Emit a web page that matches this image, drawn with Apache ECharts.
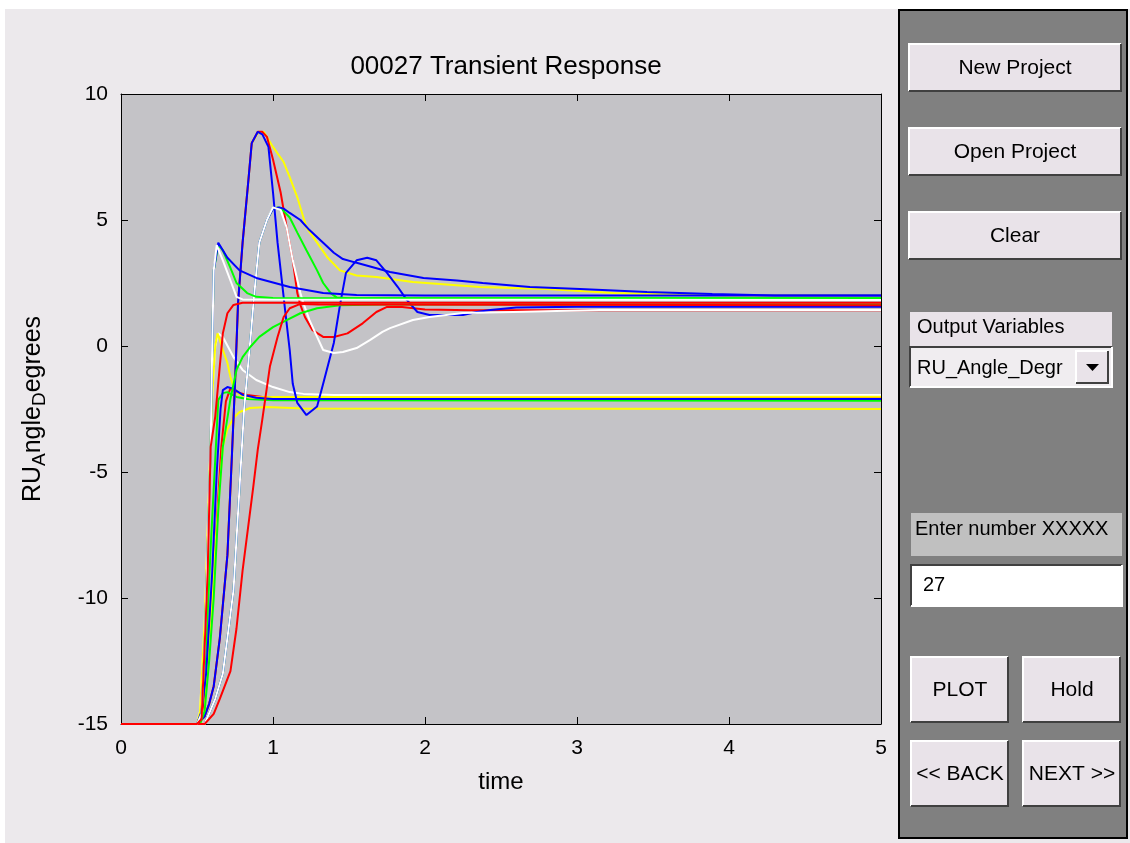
<!DOCTYPE html>
<html><head><meta charset="utf-8">
<script src="https://cdn.jsdelivr.net/npm/echarts@6/dist/echarts.min.js"></script>
<style>html,body{margin:0;padding:0;background:#fff;}#c{width:1130px;height:843px;}</style>
</head><body><div id="c"></div>
<script>
// ---- data (time, value) ----
const xTicks = [0, 1, 2, 3, 4, 5];
const yTicks = [-15, -10, -5, 0, 5, 10];
const titleText = '00027 Transient Response';
const xName = 'time';

const blueA = [[0,-15],[0.5,-15],[0.55,-14.7],[0.58,-14.2],[0.61,-13.5],[0.65,-11.6],[0.70,-8.3],[0.73,-4.3],[0.75,-1.5],[0.77,1.7],[0.80,4.1],[0.84,6.7],[0.86,8.05],[0.90,8.5],[0.93,8.4],[0.97,7.9],[1.0,6.1],[1.03,4.1],[1.07,1.95],[1.08,1.4],[1.11,-0.16],[1.13,-1.5],[1.16,-2.26],[1.22,-2.74],[1.29,-2.4],[1.33,-1.5],[1.40,0.12],[1.44,1.6],[1.48,2.9],[1.55,3.4],[1.62,3.5],[1.68,3.4],[1.75,2.9],[1.82,2.35],[1.88,1.83],[1.95,1.35],[2.03,1.23],[2.25,1.23],[2.34,1.35],[2.43,1.43],[2.6,1.53],[3.0,1.56],[5,1.56]];
const redB = [[0,-15],[0.5,-15],[0.55,-14.7],[0.58,-14.2],[0.61,-13.5],[0.65,-11.6],[0.70,-8.3],[0.73,-4.3],[0.75,-1.5],[0.77,1.7],[0.80,4.1],[0.84,6.7],[0.86,8.05],[0.90,8.5],[0.93,8.5],[0.96,8.3],[1.0,7.4],[1.05,6.1],[1.09,4.7],[1.13,3.4],[1.16,2.1],[1.18,1.63],[1.21,1.15],[1.26,0.63],[1.33,0.36],[1.40,0.36],[1.49,0.5],[1.59,0.9],[1.68,1.35],[1.75,1.55],[1.85,1.55],[2.0,1.45],[2.3,1.42],[5,1.42]];
const yellowC = [[0,-15],[0.5,-15],[0.55,-14.7],[0.58,-14.2],[0.61,-13.5],[0.65,-11.6],[0.70,-8.3],[0.73,-4.3],[0.75,-1.5],[0.77,1.7],[0.80,4.1],[0.84,6.7],[0.86,8.05],[0.90,8.45],[0.94,8.5],[1.0,7.9],[1.07,7.3],[1.11,6.7],[1.16,5.9],[1.22,4.7],[1.29,4.1],[1.36,3.5],[1.44,3.0],[1.55,2.8],[1.68,2.74],[1.92,2.54],[2.36,2.34],[2.80,2.26],[3.24,2.1],[3.68,2.04],[4.0,2.0],[5,2.0]];
const whiteE = [[0,-15],[0.55,-15],[0.62,-14.0],[0.67,-13.0],[0.74,-9.7],[0.78,-5.6],[0.81,-2.5],[0.84,-0.5],[0.855,0.5],[0.87,1.6],[0.89,2.9],[0.91,4.1],[0.96,5.0],[1.0,5.5],[1.05,5.4],[1.09,4.7],[1.13,3.4],[1.18,2.1],[1.20,1.7],[1.24,1.03],[1.29,0.36],[1.33,-0.16],[1.40,-0.28],[1.46,-0.24],[1.55,-0.08],[1.64,0.24],[1.72,0.56],[1.77,0.71],[1.92,1.03],[2.03,1.15],[2.25,1.31],[2.58,1.35],[3.15,1.43],[5,1.43]];
const blueD = [[0,-15],[0.55,-15],[0.62,-14.0],[0.67,-13.0],[0.74,-9.7],[0.78,-5.6],[0.81,-2.5],[0.84,-0.5],[0.855,0.5],[0.87,1.6],[0.89,2.9],[0.91,4.1],[0.96,5.0],[1.0,5.45],[1.04,5.5],[1.07,5.45],[1.11,5.28],[1.18,5.0],[1.24,4.6],[1.33,4.1],[1.40,3.7],[1.46,3.45],[1.55,3.3],[1.77,2.94],[1.99,2.7],[2.21,2.6],[2.38,2.5],[2.69,2.34],[3.02,2.26],[3.46,2.14],[3.89,2.06],[4.3,2.0],[5,2.0]];
const greenF = [[0,-15],[0.55,-15],[0.62,-14.0],[0.67,-13.0],[0.74,-9.7],[0.78,-5.6],[0.81,-2.5],[0.84,-0.5],[0.855,0.5],[0.87,1.6],[0.89,2.9],[0.91,4.1],[0.96,5.0],[1.0,5.45],[1.03,5.5],[1.05,5.48],[1.11,5.1],[1.16,4.5],[1.22,3.8],[1.29,3.0],[1.33,2.5],[1.38,2.1],[1.42,1.92],[1.5,1.89],[5,1.89]];
const whiteH = [[0,-15],[0.5,-15],[0.53,-14.6],[0.55,-12],[0.57,-8],[0.59,-4],[0.60,0],[0.61,3.0],[0.63,4.0],[0.65,3.7],[0.67,3.4],[0.72,2.6],[0.76,1.95],[0.80,1.85],[5,1.83]];
const blueG = [[0,-15],[0.5,-15],[0.53,-14.6],[0.55,-12],[0.57,-8],[0.59,-4],[0.60,0],[0.61,3.0],[0.64,4.1],[0.65,4.0],[0.70,3.5],[0.78,3.0],[0.89,2.7],[1.11,2.34],[1.33,2.1],[1.55,2.02],[2.0,2.0],[5,2.0]];
const greenI = [[0,-15],[0.5,-15],[0.53,-14.6],[0.55,-12],[0.57,-8],[0.59,-4],[0.60,0],[0.61,3.0],[0.64,4.0],[0.67,3.8],[0.72,3.1],[0.76,2.5],[0.83,2.1],[0.89,1.95],[1.0,1.9],[5,1.89]];
const redJ = [[0,-15],[0.5,-15],[0.53,-14.8],[0.55,-12],[0.57,-9],[0.59,-4.0],[0.62,-2.8],[0.65,-0.8],[0.67,0.5],[0.70,1.3],[0.74,1.63],[0.80,1.72],[5,1.72]];
const redK = [[0,-15],[0.55,-15],[0.61,-14.6],[0.65,-14.0],[0.72,-12.9],[0.76,-11.2],[0.80,-8.9],[0.87,-5.6],[0.90,-4.1],[0.93,-2.9],[0.98,-0.8],[1.03,0.36],[1.07,1.15],[1.11,1.5],[1.18,1.67],[1.3,1.65],[5,1.62]];
const greenL = [[0,-15],[0.52,-15],[0.55,-14.5],[0.58,-12.5],[0.61,-10],[0.64,-6.5],[0.67,-4.0],[0.72,-2.1],[0.76,-0.95],[0.80,-0.44],[0.85,-0.04],[0.91,0.36],[1.0,0.75],[1.09,1.03],[1.18,1.3],[1.29,1.5],[1.44,1.62],[1.7,1.65],[5,1.65]];
const yellowM = [[0,-15],[0.5,-15],[0.52,-14.5],[0.55,-11],[0.58,-5.5],[0.60,-2],[0.62,0],[0.635,0.5],[0.65,0.24],[0.67,-0.16],[0.70,-0.67],[0.72,-1.23],[0.74,-1.63],[0.78,-1.94],[0.85,-2.04],[1.0,-2.02],[5,-2.01]];
const whiteO = [[0,-15],[0.5,-15],[0.52,-14.5],[0.55,-11],[0.58,-5.5],[0.60,-2],[0.62,0],[0.64,0.5],[0.67,0.36],[0.74,-0.44],[0.80,-0.95],[0.89,-1.35],[1.0,-1.63],[1.11,-1.83],[1.20,-1.90],[1.4,-1.94],[5,-1.94]];
const blueP = [[0,-15],[0.5,-15],[0.53,-14.5],[0.56,-13],[0.60,-9],[0.63,-5],[0.655,-2.5],[0.67,-1.75],[0.70,-1.63],[0.74,-1.7],[0.80,-1.94],[0.89,-2.05],[1.0,-2.1],[5,-2.1]];
const greenQ = [[0,-15],[0.5,-15],[0.53,-14.5],[0.56,-12],[0.59,-8],[0.62,-4.5],[0.64,-2.14],[0.67,-1.87],[0.70,-1.83],[0.76,-2.02],[0.83,-2.1],[1.0,-2.15],[5,-2.17]];
const redR = [[0,-15],[0.52,-15],[0.55,-14],[0.58,-12],[0.62,-8],[0.66,-4],[0.69,-2.2],[0.72,-1.67],[0.76,-1.83],[0.83,-1.94],[0.93,-2.02],[5,-2.02]];
const yellowS = [[0,-15],[0.52,-15],[0.55,-14.5],[0.58,-12],[0.62,-8],[0.65,-5.5],[0.67,-4.0],[0.70,-3.3],[0.74,-2.86],[0.78,-2.62],[0.85,-2.46],[0.96,-2.42],[1.2,-2.48],[5,-2.5]];

// GUI texts
const btnTop = ['New Project', 'Open Project', 'Clear'];
const outVarLabel = 'Output Variables';
const outVarValue = 'RU_Angle_Degr';
const enterLabel = 'Enter number XXXXX';
const enterValue = '27';
const btnBottom = ['PLOT', 'Hold', '<< BACK', 'NEXT >>'];

// ---- styles ----
const BLUE = '#0000ff', RED = '#ff0000', YEL = '#ffff00', GRN = '#00ff00', WHT = '#ffffff';
const FONT = '"Liberation Sans", Arial, sans-serif';
const curves = [
  [redR, RED], [greenQ, GRN], [whiteO, WHT], [yellowS, YEL], [yellowM, YEL], [blueP, BLUE],
  [yellowC, YEL], [redB, RED], [blueA, BLUE], [greenF, GRN], [blueD, BLUE], [whiteE, WHT],
  [greenL, GRN], [redK, RED], [greenI, GRN], [blueG, BLUE], [whiteH, WHT], [redJ, RED]
];

function bevel(x, y, w, h, fill, raised) {
  const hi = raised ? '#ffffff' : '#404040', lo = raised ? '#404040' : '#ffffff';
  return [
    {type: 'rect', silent: true, shape: {x, y, width: w, height: h}, style: {fill}},
    {type: 'polyline', silent: true, shape: {points: [[x, y + h], [x, y], [x + w, y]]}, style: {stroke: hi, lineWidth: 2, fill: null}},
    {type: 'polyline', silent: true, shape: {points: [[x, y + h], [x + w, y + h], [x + w, y]]}, style: {stroke: lo, lineWidth: 2, fill: null}}
  ];
}
function txt(s, x, y, align, size) {
  return {type: 'text', silent: true, z: 10, style: {text: s, x, y, textAlign: align, textVerticalAlign: 'middle', align: align, verticalAlign: 'middle', font: size + 'px ' + FONT, fill: '#000'}};
}

const BTN = '#e9e3e9';
let g = [];
g.push({type: 'rect', silent: true, shape: {x: 0, y: 0, width: 1130, height: 9}, style: {fill: '#ffffff'}});
g.push({type: 'rect', silent: true, shape: {x: 0, y: 0, width: 5, height: 843}, style: {fill: '#ffffff'}});
g.push({type: 'rect', silent: true, shape: {x: 899, y: 10, width: 228, height: 828}, style: {fill: '#808080', stroke: '#000', lineWidth: 2}});
const topY = [44, 128, 212];
btnTop.forEach((s, i) => { g = g.concat(bevel(909, topY[i], 212, 47, BTN, true)); g.push(txt(s, 1015, topY[i] + 24, 'center', 21)); });
g.push({type: 'rect', silent: true, shape: {x: 910, y: 312, width: 202, height: 34}, style: {fill: BTN}});
g.push(txt(outVarLabel, 917, 327, 'left', 20));
g = g.concat(bevel(910, 347, 202, 40, '#f0edf0', false));
g.push(txt(outVarValue, 917, 368, 'left', 20));
g = g.concat(bevel(1076, 351, 32, 32, BTN, true));
g.push({type: 'polygon', silent: true, z: 11, shape: {points: [[1086, 364], [1099, 364], [1092.5, 371]]}, style: {fill: '#000'}});
g.push({type: 'rect', silent: true, shape: {x: 911, y: 513, width: 211, height: 43}, style: {fill: '#c0c0c0'}});
g.push(txt(enterLabel, 915, 529, 'left', 20));
g = g.concat(bevel(911, 565, 211, 41, '#ffffff', false));
g.push(txt(enterValue, 923, 585, 'left', 20));
const bbX = [911, 1023, 911, 1023], bbY = [657, 657, 741, 741];
btnBottom.forEach((s, i) => { g = g.concat(bevel(bbX[i], bbY[i], 97, 65, BTN, true)); g.push(txt(s, bbX[i] + 49, bbY[i] + 33, 'center', 21)); });

const axisCommon = {
  axisLine: {show: true, onZero: false, lineStyle: {color: '#000', width: 1}},
  axisTick: {show: true, inside: true, length: 7, lineStyle: {color: '#000'}},
  splitLine: {show: false}
};

const option = {
  backgroundColor: '#ece9ec',
  animation: false,
  title: {text: titleText, left: 501, top: 49, textAlign: 'center',
    textStyle: {fontSize: 26, fontWeight: 'normal', fontFamily: FONT, color: '#000'}},
  grid: {left: 121, top: 94, width: 760, height: 630, show: true, backgroundColor: '#c4c3c7', borderWidth: 0},
  xAxis: [
    Object.assign({type: 'value', min: 0, max: 5, interval: 1, position: 'bottom',
      name: xName, nameLocation: 'middle', nameGap: 46,
      nameTextStyle: {fontSize: 24, fontFamily: FONT, color: '#000'},
      axisLabel: {fontSize: 21, fontFamily: FONT, color: '#000', margin: 14}}, axisCommon),
    Object.assign({type: 'value', min: 0, max: 5, interval: 1, position: 'top', axisLabel: {show: false}}, axisCommon)
  ],
  yAxis: [
    Object.assign({type: 'value', min: -15, max: 10, interval: 5, position: 'left',
      name: '{n|RU}{s|A}{n|ngle}{s|D}{n|egrees}', nameLocation: 'middle', nameGap: 72, nameRotate: 90,
      nameTextStyle: {fontFamily: FONT, color: '#000',
        rich: {n: {fontSize: 25, fontFamily: FONT, color: '#000'}, s: {fontSize: 19, fontFamily: FONT, color: '#000', padding: [12, 0, 0, 0]}}},
      axisLabel: {fontSize: 21, fontFamily: FONT, color: '#000', margin: 13}}, axisCommon),
    Object.assign({type: 'value', min: -15, max: 10, interval: 5, position: 'right', axisLabel: {show: false}}, axisCommon)
  ],
  series: curves.map(([d, c]) => ({
    type: 'line', data: d, showSymbol: false, symbol: 'none', xAxisIndex: 0, yAxisIndex: 0,
    lineStyle: {color: c, width: 2}, itemStyle: {color: c}, silent: true, clip: true
  })),
  graphic: g
};
const chart = echarts.init(document.getElementById('c'), null, {renderer: 'canvas'});
chart.setOption(option);
</script></body></html>
